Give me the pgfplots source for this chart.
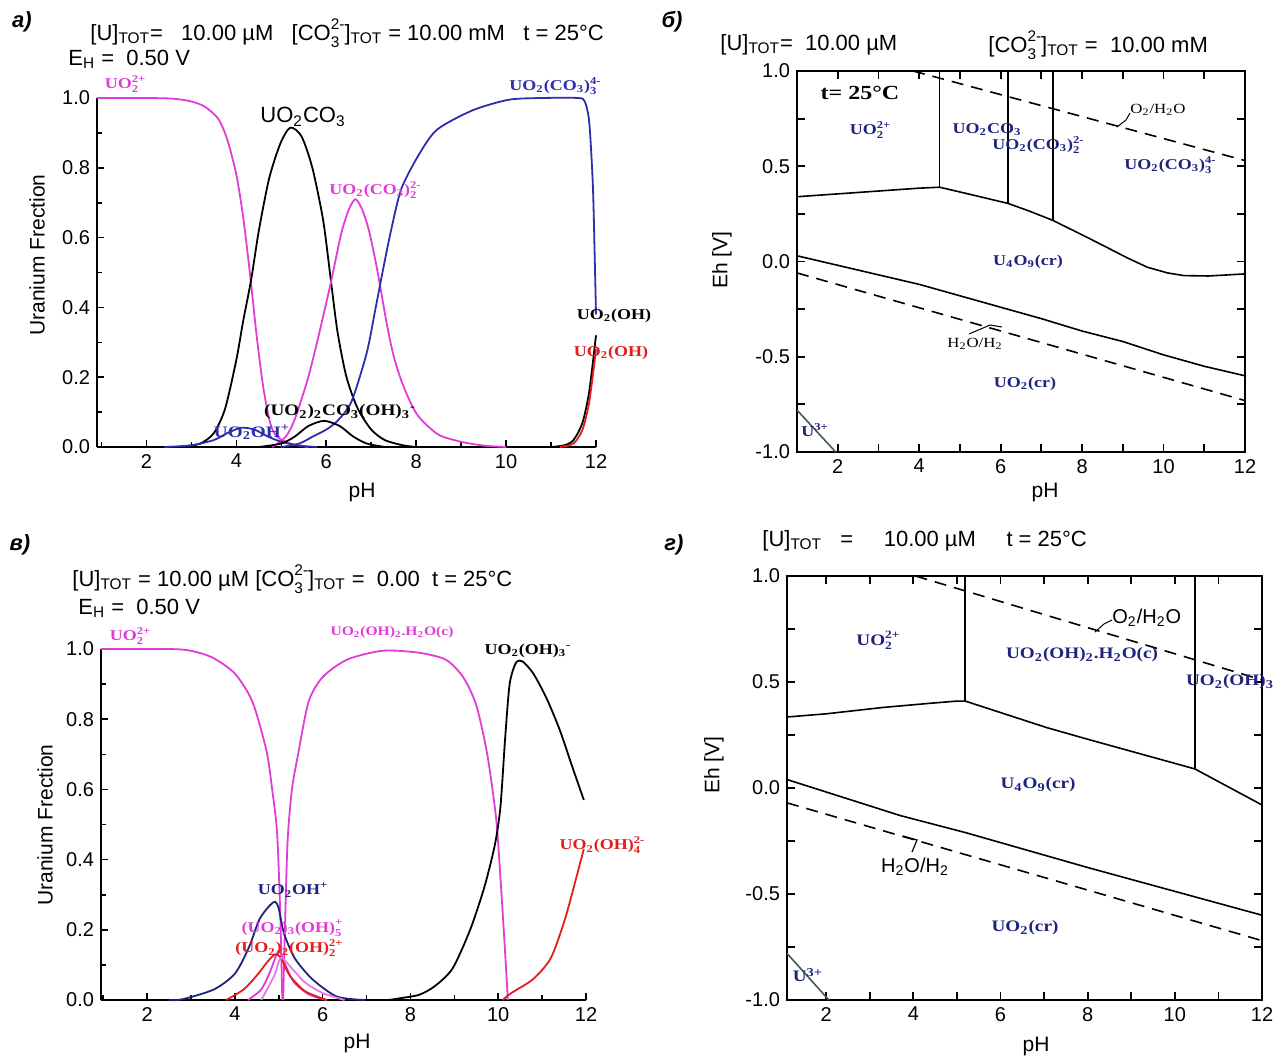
\documentclass[border=0pt]{standalone}
\usepackage{fontspec}
\setmainfont{Liberation Sans}
\newfontfamily\lab{Liberation Serif}[FakeStretch=1.2]
\usepackage{pgfplots}
\pgfplotsset{compat=1.18}
\definecolor{mag}{RGB}{225,60,215}
\definecolor{blu}{RGB}{45,45,175}
\definecolor{nav}{RGB}{30,35,125}
\definecolor{rd}{RGB}{225,30,30}
\definecolor{ugr}{RGB}{70,90,70}
\makeatletter
\newcommand{\smallerfont}{\fontsize{\strip@pt\dimexpr\f@size pt*7/10\relax}{0pt}\selectfont}
\makeatother
\newcommand{\SupSub}[2]{%
  \setbox0=\hbox{\raisebox{0.95ex}{\smallerfont #1}}%
  \setbox2=\hbox{\raisebox{-0.55ex}{\smallerfont #2}}%
  \ifdim\wd0>\wd2 \hbox to \wd0{\rlap{\box2}\box0}\else\hbox to \wd2{\rlap{\box0}\box2}\fi}
\newcommand{\spc}[2][8]{{\lab\bfseries\fontsize{#1}{#1}\selectfont #2}}
\newcommand{\sub}[1]{\textsubscript{#1}}
\newcommand{\sups}[1]{\textsuperscript{#1}}
\pgfplotsset{
  fracax/.style={scale only axis, axis x line*=bottom, axis y line*=left, clip=false,
    xtick={2,4,6,8,10,12}, minor xtick={1,3,5,7,9,11},
    ytick={0,0.2,0.4,0.6,0.8,1}, minor ytick={0.1,0.3,0.5,0.7,0.9},
    tick align=inside, major tick length=3.5pt, minor tick length=2.5pt,
    axis line style={line width=1pt}, tick style={line width=0.8pt, black},
    tick label style={font=\fontsize{10}{11}\selectfont},
    /pgf/number format/assume math mode=true,
    yticklabel style={/pgf/number format/.cd, fixed, fixed zerofill, precision=1},
    every axis plot/.append style={line width=0.9pt, smooth, tension=0.45}},
  pbax/.style={scale only axis,
    xtick={2,4,6,8,10,12}, minor xtick={3,5,7,9,11},
    ytick={-1,-0.5,0,0.5,1}, minor ytick={-0.75,-0.25,0.25,0.75},
    tick align=inside, major tick length=4pt, minor tick length=4pt,
    axis line style={line width=1.2pt}, tick style={line width=0.9pt, black},
    tick label style={font=\fontsize{10}{11}\selectfont},
    /pgf/number format/assume math mode=true,
    yticklabel style={/pgf/number format/.cd, fixed, fixed zerofill, precision=1},
    every axis plot/.append style={line width=0.8pt, sharp plot}},
  dsh/.style={black, dash pattern=on 6pt off 4pt}
}
\begin{document}
\begin{tikzpicture}
\path[use as bounding box] (0,0) rectangle (638.5pt,-527.5pt);

% ---------------- panel a ----------------
\begin{axis}[fracax, at={(48.5pt,-223.5pt)}, anchor=south west,
  width=249.5pt, height=174.5pt, xmin=0.9, xmax=12, ymin=0, ymax=1]
\addplot[mag] coordinates {(0.9,1.0) (2.0,1.0) (2.6,0.998) (3.0,0.99) (3.3,0.975) (3.6,0.94) (3.8,0.88) (4.0,0.78) (4.15,0.66) (4.3,0.5) (4.45,0.32) (4.6,0.17) (4.75,0.07) (4.9,0.03) (5.2,0.01) (5.6,0)};
\addplot[black] coordinates {(2.8,0) (3.2,0.01) (3.5,0.04) (3.75,0.11) (4.0,0.25) (4.15,0.36) (4.33,0.48) (4.5,0.62) (4.73,0.77) (4.98,0.87) (5.2,0.915) (5.45,0.89) (5.69,0.8) (5.93,0.65) (6.1,0.48) (6.25,0.33) (6.45,0.2) (6.7,0.11) (7.0,0.05) (7.3,0.02) (7.7,0.005) (8.0,0)};
\addplot[mag] coordinates {(4.8,0) (5.1,0.03) (5.3,0.08) (5.6,0.2) (5.85,0.33) (6.1,0.47) (6.33,0.61) (6.5,0.68) (6.65,0.71) (6.8,0.68) (6.95,0.62) (7.1,0.53) (7.2,0.46) (7.35,0.35) (7.5,0.26) (7.67,0.19) (7.9,0.12) (8.1,0.08) (8.5,0.035) (9.0,0.015) (9.5,0.004) (10,0)};
\addplot[blu] coordinates {(5.0,0) (5.4,0.01) (5.7,0.03) (6.0,0.05) (6.25,0.075) (6.56,0.13) (6.9,0.27) (7.1,0.4) (7.25,0.5) (7.44,0.62) (7.67,0.74) (8.07,0.84) (8.47,0.91) (9.26,0.965) (10.06,0.995) (10.8,1.0) (11.6,1.0) (11.75,0.99) (11.85,0.93) (11.93,0.75) (11.97,0.55) (12.0,0.38)};
\addplot[blu] coordinates {(2.4,0) (3.0,0.005) (3.5,0.02) (3.8,0.04) (4.1,0.055) (4.4,0.05) (4.7,0.03) (5.0,0.015) (5.4,0.004) (5.8,0)};
\addplot[black] coordinates {(4.5,0) (5.0,0.01) (5.3,0.03) (5.6,0.06) (5.95,0.075) (6.3,0.06) (6.6,0.03) (6.9,0.01) (7.3,0)};
\addplot[black] coordinates {(11.0,0) (11.3,0.005) (11.5,0.02) (11.7,0.07) (11.85,0.16) (12.0,0.32)};
\addplot[rd] coordinates {(11.2,0) (11.5,0.01) (11.7,0.05) (11.85,0.13) (12.0,0.28)};
\end{axis}

% ---------------- panel b ----------------
\begin{axis}[pbax, at={(398.5pt,-226pt)}, anchor=south west,
  width=224pt, height=190.5pt, xmin=1, xmax=12, ymin=-1, ymax=1]
\addplot[black] coordinates {(1,0.34) (2,0.355) (3,0.37) (4,0.385) (4.5,0.39) (5.3,0.35) (6.18,0.305) (6.7,0.265) (7.28,0.216) (8,0.14) (8.6,0.075) (9.1,0.02) (9.6,-0.03) (10.1,-0.06) (10.5,-0.074) (11.1,-0.076) (11.6,-0.07) (12,-0.065)};
\addplot[black] coordinates {(4.5,0.39) (4.5,1.0)};
\addplot[black] coordinates {(6.18,0.305) (6.18,1.0)};
\addplot[black] coordinates {(7.28,0.216) (7.28,1.0)};
\addplot[black] coordinates {(1,0.03) (2,-0.02) (3,-0.07) (4,-0.12) (5,-0.18) (6,-0.24) (7,-0.3) (8,-0.365) (9,-0.42) (10,-0.49) (11,-0.55) (12,-0.6)};
\addplot[dsh] coordinates {(1,-0.06) (12,-0.73)};
\addplot[dsh] coordinates {(3.85,1.0) (12,0.53)};
\addplot[ugr] coordinates {(1,-0.78) (1.95,-1.0)};
\end{axis}

% ---------------- panel v ----------------
\begin{axis}[fracax, at={(50.5pt,-500pt)}, anchor=south west,
  width=242.5pt, height=175.5pt, xmin=0.95, xmax=12, ymin=0, ymax=1]
\addplot[mag] coordinates {(0.95,1.0) (2.5,1.0) (3.0,0.995) (3.5,0.975) (4.0,0.93) (4.4,0.85) (4.72,0.71) (4.85,0.6) (4.96,0.48) (5.02,0.3) (5.06,0.12) (5.08,0)};
\addplot[mag] coordinates {(5.1,0) (5.14,0.2) (5.2,0.45) (5.3,0.6) (5.44,0.7) (5.68,0.85) (6.0,0.92) (6.56,0.97) (7.36,0.995) (8.16,0.99) (8.8,0.97) (9.2,0.92) (9.5,0.84) (9.75,0.7) (9.95,0.52) (10.05,0.35) (10.15,0.15) (10.22,0)};
\addplot[black] coordinates {(7.5,0) (7.76,0.005) (8.2,0.015) (8.56,0.04) (8.96,0.09) (9.36,0.2) (9.68,0.32) (9.92,0.44) (10.05,0.55) (10.16,0.75) (10.26,0.9) (10.4,0.96) (10.55,0.965) (10.8,0.93) (11.1,0.86) (11.4,0.77) (11.7,0.66) (11.95,0.57)};
\addplot[rd] coordinates {(10.1,0) (10.3,0.02) (10.8,0.06) (11.2,0.12) (11.52,0.23) (11.76,0.34) (11.95,0.43)};
\addplot[nav] coordinates {(2.5,0) (2.8,0.002) (3.52,0.03) (4.0,0.075) (4.32,0.15) (4.56,0.23) (4.8,0.27) (4.92,0.28) (5.0,0.26) (5.12,0.19) (5.36,0.12) (5.76,0.06) (6.32,0.01) (6.96,0)};
\addplot[mag] coordinates {(4.3,0) (4.6,0.03) (4.8,0.08) (4.95,0.13) (5.02,0.14) (5.15,0.1) (5.35,0.05) (5.7,0.015) (6.1,0)};
\addplot[rd] coordinates {(3.8,0) (4.2,0.03) (4.5,0.07) (4.75,0.11) (4.92,0.13) (5.05,0.12) (5.25,0.07) (5.6,0.025) (6.1,0)};
\addplot[mag!70] coordinates {(4.6,0) (4.9,0.07) (5.05,0.12) (5.3,0.09) (5.6,0.05) (6.0,0.02) (6.5,0)};
\end{axis}

% ---------------- panel g ----------------
\begin{axis}[pbax, at={(393.5pt,-500pt)}, anchor=south west,
  width=237.5pt, height=212pt, xmin=1.1, xmax=12, ymin=-1, ymax=1]
\addplot[black] coordinates {(1.1,0.335) (2,0.35) (3.3,0.38) (4.4,0.40) (5.0,0.41) (5.19,0.41) (7.06,0.285) (8.0,0.23) (10.46,0.09) (12,-0.08)};
\addplot[black] coordinates {(5.19,0.41) (5.19,1.0)};
\addplot[black] coordinates {(10.46,0.09) (10.46,1.0)};
\addplot[black] coordinates {(1.1,0.04) (3.7,-0.13) (5.19,-0.21) (8,-0.375) (12,-0.6)};
\addplot[dsh] coordinates {(1.1,-0.07) (12,-0.72)};
\addplot[dsh] coordinates {(4.05,1.0) (12,0.51)};
\addplot[ugr] coordinates {(1.1,-0.78) (2.06,-1.0)};
\end{axis}

% ---------------- annotations (pixel coordinates) ----------------
\begin{scope}[x=0.5pt,y=-0.5pt]
\begin{scope}[every node/.style={font=\bfseries\itshape\fontsize{11}{12}\selectfont}]
\node at (22,22) {а)};
\node at (672,22) {б)};
\node at (20,545) {в)};
\node at (674,545) {г)};
\end{scope}
\begin{scope}[every node/.style={font=\fontsize{11}{12}\selectfont, anchor=west, inner sep=0pt}]
\node at (90,33) {[U]\sub{TOT}=~~~10.00 µM~~~[CO\SupSub{2-}{3}]\sub{TOT} = 10.00 mM~~ t = 25°C};
\node at (68,59) {E\sub{H} =~ 0.50 V};
\node at (72,579) {[U]\sub{TOT} = 10.00 µM [CO\SupSub{2-}{3}]\sub{TOT} = ~0.00~ t = 25°C};
\node at (78,608) {E\sub{H} =~ 0.50 V};
\node at (720,45) {[U]\sub{TOT}=~~10.00 µM};
\node at (988,45) {[CO\SupSub{2-}{3}]\sub{TOT} =~ 10.00 mM};
\node at (762,541) {[U]\sub{TOT}~~~=~~~~~10.00 µM~~~~~t = 25°C};
\end{scope}
\begin{scope}[every node/.style={font=\fontsize{10.5}{12}\selectfont}]
\node[rotate=90] at (37,255) {Uranium Frection};
\node[rotate=90] at (45,825) {Uranium Frection};
\node[rotate=90] at (722,260) {Eh [V]};
\node[rotate=90] at (714,765) {Eh [V]};
\node at (362,492) {pH};
\node at (357,1043) {pH};
\node at (1045,492) {pH};
\node at (1036,1046) {pH};
\end{scope}
% panel a species
\node[text=mag] at (125,84) {\spc[7.5]{UO\SupSub{2+}{2}}};
\node at (303,117) {\fontsize{11}{12}\selectfont UO\sub{2}CO\sub{3}};
\node[text=mag] at (375,190) {\spc[7.5]{UO\sub{2}(CO\sub{3})\SupSub{2-}{2}}};
\node[text=blu] at (555,86) {\spc[7.5]{UO\sub{2}(CO\sub{3})\SupSub{4-}{3}}};
\node at (340,412) {\spc[8]{(UO\sub{2})\sub{2}CO\sub{3}(OH)\sub{3}\sups{-}}};
\node[text=blu] at (252,432) {\spc[8]{UO\sub{2}OH\sups{+}}};
\node at (614,316) {\spc[7.5]{UO\sub{2}(OH)}};
\node[text=rd] at (611,353) {\spc[7.5]{UO\sub{2}(OH)}};
% panel v species
\node[text=mag] at (130,636) {\spc[7.5]{UO\SupSub{2+}{2}}};
\node[text=mag] at (392,632) {\spc[6.5]{UO\sub{2}(OH)\sub{2}.H\sub{2}O(c)}};
\node at (528,651) {\spc[7.5]{UO\sub{2}(OH)\sub{3}\sups{-}}};
\node[text=rd] at (602,845) {\spc[7.5]{UO\sub{2}(OH)\SupSub{2-}{4}}};
\node[text=nav] at (293,890) {\spc[7.5]{UO\sub{2}OH\sups{+}}};
\node[text=mag] at (292,928) {\spc[7.5]{(UO\sub{2})\sub{3}(OH)\SupSub{+}{5}}};
\node[text=rd] at (289,948) {\spc[7.5]{(UO\sub{2})\sub{2}(OH)\SupSub{2+}{2}}};
% panel b species
\begin{scope}[every node/.style={text=nav}]
\node at (870,130) {\spc[7.5]{UO\SupSub{2+}{2}}};
\node at (987,130) {\spc[7.5]{UO\sub{2}CO\sub{3}}};
\node at (1038,145) {\spc[7.5]{UO\sub{2}(CO\sub{3})\SupSub{2-}{2}}};
\node at (1170,165) {\spc[7.5]{UO\sub{2}(CO\sub{3})\SupSub{4-}{3}}};
\node at (1028,262) {\spc[7.5]{U\sub{4}O\sub{9}(cr)}};
\node at (1025,384) {\spc[7.5]{UO\sub{2}(cr)}};
\node at (815,430) {\spc[7.5]{U\sups{3+}}};
\end{scope}
\node at (860,93) {\spc[10]{t= 25°C}};
\node[anchor=west, inner sep=1pt] at (1128,110) {{\lab\fontsize{7}{7}\selectfont O\sub{2}/H\sub{2}O}};
\draw[line width=0.5pt] (1117,127) -- (1126,120) -- (1130,113);
\node at (975,344) {{\lab\fontsize{7}{7}\selectfont H\sub{2}O/H\sub{2}}};
\draw[line width=0.5pt] (969,334) -- (990,325) -- (1002,327);
% panel g species
\begin{scope}[every node/.style={text=nav}]
\node at (878,640) {\spc[8]{UO\SupSub{2+}{2}}};
\node at (1082,655) {\spc[8]{UO\sub{2}(OH)\sub{2}.H\sub{2}O(c)}};
\node at (1230,682) {\spc[8]{UO\sub{2}(OH)\sub{3}}};
\node at (1038,785) {\spc[8]{U\sub{4}O\sub{9}(cr)}};
\node at (1025,928) {\spc[8]{UO\sub{2}(cr)}};
\node at (808,975) {\spc[8]{U\sups{3+}}};
\end{scope}
\node[anchor=west, inner sep=1pt] at (1110,618) {\fontsize{10}{11}\selectfont O\sub{2}/H\sub{2}O};
\draw[line width=0.5pt] (1095,632) -- (1104,624) -- (1112,620);
\node at (915,867) {\fontsize{10}{11}\selectfont H\sub{2}O/H\sub{2}};
\draw[line width=0.6pt] (903,836) -- (917,840) -- (912,852);
\end{scope}
\end{tikzpicture}
\end{document}
